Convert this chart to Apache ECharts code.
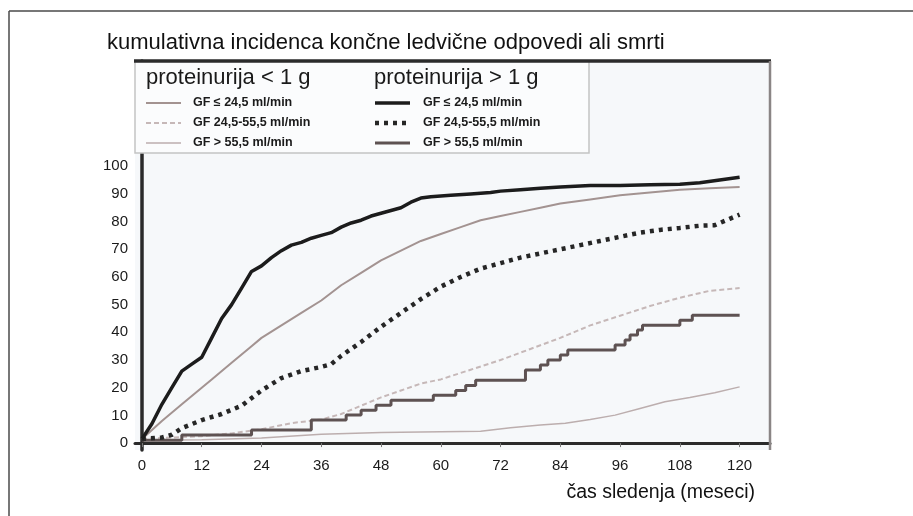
<!DOCTYPE html>
<html>
<head>
<meta charset="utf-8">
<script src="https://cdn.jsdelivr.net/npm/echarts@6/dist/echarts.min.js"></script>
<style>
  html, body { margin: 0; padding: 0; background: #fff; }
  #main { width: 913px; height: 516px; }
</style>
</head>
<body>
<div id="main"></div>
<script>
// osi
var monthTicks = [0, 12, 24, 36, 48, 60, 72, 84, 96, 108, 120];
var pctTicks = [0, 10, 20, 30, 40, 50, 60, 70, 80, 90, 100];

// proteinurija > 1 g
var hiGfLow = [[0,1.5],[2,7],[4,14],[6,20],[8,26],[10,28.5],[12,31],[14,38],[16,45],[18,50],[20,56],[22,62],[24,64],[26,67],[28,69.5],[30,71.5],[32,72.5],[34,74],[36,75],[38,76],[40,78],[42,79.5],[44,80.5],[46,82],[48,83],[50,84],[52,85],[54,87],[56,88.5],[58,89],[62,89.5],[66,90],[70,90.5],[72,91],[76,91.5],[80,92],[84,92.5],[90,93],[96,93],[102,93.3],[108,93.5],[112,94],[116,95],[120,96]];
var hiGfMid = [[0,1.5],[4,2],[6,3],[8,5.4],[12,8.3],[16,10.5],[20,13.5],[24,19],[28,23.5],[32,26],[36,27.5],[38,28.5],[40,31.5],[44,36.5],[48,42],[52,47],[56,52],[60,56.5],[64,60],[68,63],[72,65],[76,67],[80,68.5],[84,70],[88,71.5],[92,73],[96,74.5],[100,76],[104,77],[108,77.7],[112,78.5],[115,78.7],[118,81],[120,82.5]];
var hiGfHigh = [[0,1],[8,2.9],[22,4.7],[34,8.3],[41,10.1],[44,11.9],[47,13.7],[50,15.5],[58.5,17.3],[63,19],[65,20.8],[67,22.7],[77,26.4],[80,28.2],[81.5,30],[84,31.8],[85.5,33.6],[95,35.4],[97,37.2],[98,39],[99.5,40.8],[100.5,42.6],[108,44.4],[110.5,46.2],[120,46.2]];

// proteinurija < 1 g
var loGfLow = [[0,1.5],[4,8],[8,14],[12,20],[14,23],[18,29],[22,35],[24,38],[28,42.5],[32,47],[36,51.5],[40,57],[44,61.5],[48,66],[52,69.5],[56,73],[60,75.5],[64,78],[68,80.5],[72,82],[76,83.5],[80,85],[84,86.5],[90,88],[96,89.5],[102,90.5],[108,91.5],[114,92],[120,92.5]];
var loGfMid = [[0,1.5],[6,2],[12,2.5],[18,3.5],[24,5],[30,7.2],[36,8.5],[40,10.5],[44,13.5],[48,16.5],[52,19],[56,21.5],[60,23],[66,26.5],[72,30],[78,34],[84,38],[90,42.5],[96,46],[102,49.5],[108,52.5],[114,55],[120,56]];
var loGfHigh = [[0,1],[12,1.2],[24,1.8],[36,3.2],[48,3.8],[60,4.1],[68,4.3],[74,5.5],[80,6.5],[85,7.2],[90,8.5],[95,10.1],[100,12.5],[105,14.9],[110,16.5],[115,18.2],[120,20.3]];

var legendLo = ['GF ≤ 24,5 ml/min', 'GF 24,5-55,5 ml/min', 'GF > 55,5 ml/min'];
var legendHi = ['GF ≤ 24,5 ml/min', 'GF 24,5-55,5 ml/min', 'GF > 55,5 ml/min'];

var FONT = "'Liberation Sans', Arial, sans-serif";

// stili crt
var styles = {
    loGfLow: { color: '#a39391', width: 2, type: 'solid' },
    loGfMid: { color: '#c6b8b8', width: 2, type: [5, 3] },
    loGfHigh: { color: '#bcaeae', width: 1.5, type: 'solid' },
    hiGfLow: { color: '#1c1c1c', width: 3.5, type: 'solid' },
    hiGfMid: { color: '#262626', width: 4.5, type: [4, 5] },
    hiGfHigh: { color: '#5e5252', width: 3, type: 'solid' }
};

function makeLine(data, st, step) {
    return {
        type: 'line',
        data: data,
        showSymbol: false,
        step: step || false,
        silent: true,
        lineStyle: { color: st.color, width: st.width, type: st.type, cap: 'butt' },
        z: 3
    };
}

function legendSample(x, y, st) {
    return {
        type: 'line',
        z: 50,
        shape: { x1: x, y1: y, x2: x + 35, y2: y },
        style: {
            stroke: st.color,
            lineWidth: st.width,
            lineDash: Array.isArray(st.type) ? st.type : null
        }
    };
}

function legendText(x, y, txt, size, bold) {
    return {
        type: 'text',
        z: 50,
        x: x, y: y,
        style: {
            text: txt,
            font: (bold ? 'bold ' : '') + size + 'px ' + FONT,
            fill: '#1a1a1a',
            textVerticalAlign: 'middle'
        }
    };
}

var chart = echarts.init(document.getElementById('main'));

var loKeys = ['loGfLow', 'loGfMid', 'loGfHigh'];
var hiKeys = ['hiGfLow', 'hiGfMid', 'hiGfHigh'];
var legendItems = [
    legendText(146, 78, 'proteinurija < 1 g', 22, false),
    legendText(374, 78, 'proteinurija > 1 g', 22, false)
];
for (var i = 0; i < 3; i++) {
    legendItems.push(legendSample(146, 103 + i * 20, styles[loKeys[i]]));
    legendItems.push(legendText(193, 103 + i * 20, legendLo[i], 12.5, true));
    legendItems.push(legendSample(375, 103 + i * 20, styles[hiKeys[i]]));
    legendItems.push(legendText(423, 103 + i * 20, legendHi[i], 12.5, true));
}

var option = {
    animation: false,
    backgroundColor: '#ffffff',
    title: {
        text: 'kumulativna incidenca končne ledvične odpovedi ali smrti',
        left: 107,
        top: 32,
        padding: 0,
        textStyle: { fontFamily: FONT, fontSize: 22, fontWeight: 'normal', color: '#111' }
    },
    grid: {
        left: 135, right: 143, top: 61, bottom: 66,
        show: true,
        backgroundColor: '#f6f8fa',
        borderWidth: 0
    },
    xAxis: {
        type: 'value',
        min: -1.4,
        max: 126.1,
        splitLine: { show: false },
        axisLine: { lineStyle: { color: '#2a2a2a', width: 3 } },
        axisTick: { show: true, customValues: monthTicks, length: 4, lineStyle: { color: '#777', width: 1 } },
        axisLabel: {
            customValues: monthTicks,
            margin: 8,
            fontFamily: FONT, fontSize: 15, color: '#1a1a1a'
        }
    },
    yAxis: {
        type: 'value',
        min: -2.5,
        max: 138,
        splitLine: { show: false },
        axisLine: { show: true, lineStyle: { color: '#2a2a2a', width: 3.5 } },
        axisTick: { show: false },
        axisLabel: {
            customValues: pctTicks,
            margin: 7,
            fontFamily: FONT, fontSize: 15, color: '#1a1a1a'
        }
    },
    graphic: [
        // zunanji okvir slike
        { type: 'line', z: 100, shape: { x1: 9, y1: 11, x2: 913, y2: 11 }, style: { stroke: '#4a4a4a', lineWidth: 1.5 } },
        { type: 'line', z: 100, shape: { x1: 9, y1: 11, x2: 9, y2: 516 }, style: { stroke: '#4a4a4a', lineWidth: 1.5 } },
        // okvir legende
        { type: 'rect', z: 40, shape: { x: 135, y: 61, width: 454, height: 92 }, style: { fill: '#fbfcfd', stroke: '#c4c4c4', lineWidth: 1.5 } },
        // zgornji in desni rob grafa
        { type: 'line', z: 100, shape: { x1: 134, y1: 61, x2: 771, y2: 61 }, style: { stroke: '#2b2b2b', lineWidth: 3.5 } },
        { type: 'line', z: 100, shape: { x1: 770, y1: 61, x2: 770, y2: 450 }, style: { stroke: '#8a8585', lineWidth: 2.5 } },
        // ime osi x
        {
            type: 'text', z: 100, x: 755, y: 493,
            style: {
                text: 'čas sledenja (meseci)',
                font: '19.5px ' + FONT,
                fill: '#111',
                textAlign: 'right',
                textVerticalAlign: 'middle'
            }
        }
    ].concat(legendItems),
    series: [
        makeLine(loGfHigh, styles.loGfHigh),
        makeLine(loGfMid, styles.loGfMid),
        makeLine(loGfLow, styles.loGfLow),
        makeLine(hiGfHigh, styles.hiGfHigh, 'end'),
        makeLine(hiGfMid, styles.hiGfMid),
        makeLine(hiGfLow, styles.hiGfLow)
    ]
};

try {
    chart.setOption(option);
} catch (err) {
    console.error(err);
}
</script>
</body>
</html>
